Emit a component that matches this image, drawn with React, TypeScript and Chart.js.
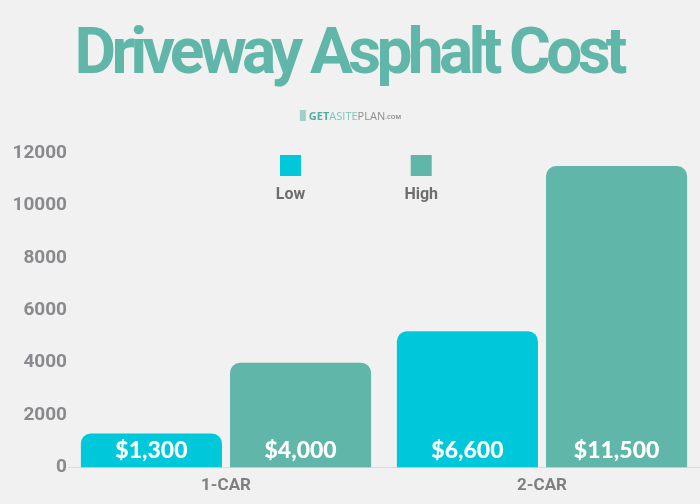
import React, { useEffect, useRef } from 'react';
import { Chart, registerables } from 'chart.js';

Chart.register(...registerables);

const categories = ['1-CAR', '2-CAR'];
const seriesNames = ['Low', 'High'];
const lowValues = [1300, 5200];
const highValues = [4000, 11500];
const lowLabels = ['$1,300', '$6,600'];
const highLabels = ['$4,000', '$11,500'];
const yMax = 12000;
const yStep = 2000;

const titleText = 'Driveway Asphalt Cost';
const logoParts = [
  { text: 'GET', color: '#4FAE9F', weight: 'bold' },
  { text: 'ASITE', color: '#7CC5BA', weight: 'normal' },
  { text: 'PLAN', color: '#8E8E8E', weight: 'normal' },
];
const logoSuffix = '.COM';

const LOW_COLOR = '#00C8DB';
const HIGH_COLOR = '#61B6AA';
const BG = '#F1F1F1';

const decorPlugin = {
  id: 'decor',
  afterDatasetsDraw(chart: any) {
    const ctx = chart.ctx;
    const labelSets = [lowLabels, highLabels];
    ctx.save();
    ctx.fillStyle = '#FFFFFF';
    ctx.font = '900 23px Lato';
    ctx.textAlign = 'center';
    ctx.textBaseline = 'alphabetic';
    labelSets.forEach((labels, di) => {
      const meta = chart.getDatasetMeta(di);
      meta.data.forEach((bar: any, i: number) => {
        ctx.fillText(labels[i], bar.x, bar.base - 10);
      });
    });
    ctx.restore();
  },
  afterDraw(chart: any) {
    const ctx = chart.ctx;
    ctx.save();
    // Title
    ctx.fillStyle = HIGH_COLOR;
    ctx.font = 'bold 64px Roboto';
    ctx.textAlign = 'center';
    ctx.textBaseline = 'alphabetic';
    const targetW = 553;
    const w = ctx.measureText(titleText).width;
    const ls = (targetW - w) / (titleText.length - 1);
    (ctx as any).letterSpacing = ls.toFixed(2) + 'px';
    ctx.fillText(titleText, 351 + ls / 2, 73);
    (ctx as any).letterSpacing = '0px';

    // Logo
    ctx.textAlign = 'left';
    let total = 0;
    const widths: number[] = [];
    logoParts.forEach((p) => {
      ctx.font = `${p.weight} 11px "Open Sans"`;
      const pw = ctx.measureText(p.text).width;
      widths.push(pw);
      total += pw;
    });
    ctx.font = 'bold 6px "Open Sans"';
    const sw = ctx.measureText(logoSuffix).width;
    total += sw;
    let x = 355 - total / 2;
    logoParts.forEach((p, i) => {
      ctx.font = `${p.weight} 11px "Open Sans"`;
      ctx.fillStyle = p.color;
      ctx.fillText(p.text, x, 120);
      x += widths[i];
    });
    ctx.font = 'bold 6px "Open Sans"';
    ctx.fillStyle = '#8E8E8E';
    ctx.fillText(logoSuffix, x, 119);
    ctx.fillStyle = '#9FCFC6';
    ctx.fillRect(355 - total / 2 - 9, 110, 6, 11);

    // Legend
    const legendItems = [
      { name: seriesNames[0], color: LOW_COLOR, cx: 290.5 },
      { name: seriesNames[1], color: HIGH_COLOR, cx: 421.2 },
    ];
    ctx.textAlign = 'center';
    ctx.font = 'bold 16px Roboto';
    legendItems.forEach((it) => {
      ctx.fillStyle = it.color;
      ctx.fillRect(it.cx - 10.5, 155, 21, 21);
      ctx.fillStyle = '#6E6E6E';
      ctx.fillText(it.name, it.cx, 199);
    });
    ctx.restore();
  },
};

export default function App() {
  const canvasRef = useRef<HTMLCanvasElement | null>(null);

  useEffect(() => {
    const canvas = canvasRef.current;
    if (!canvas) return;
    const chart = new Chart(canvas, {
      type: 'bar',
      data: {
        labels: categories,
        datasets: [
          {
            label: seriesNames[0],
            data: lowValues,
            backgroundColor: LOW_COLOR,
            borderRadius: 10,
            borderSkipped: 'start',
            categoryPercentage: 0.944,
            barPercentage: 0.946,
          },
          {
            label: seriesNames[1],
            data: highValues,
            backgroundColor: HIGH_COLOR,
            borderRadius: 10,
            borderSkipped: 'start',
            categoryPercentage: 0.944,
            barPercentage: 0.946,
          },
        ],
      },
      options: {
        responsive: false,
        animation: false,
        devicePixelRatio: 1,
        layout: { padding: { top: 153, bottom: 0, left: 0, right: 0 } },
        plugins: {
          legend: { display: false },
          title: { display: false },
          tooltip: { enabled: false },
        },
        scales: {
          x: {
            grid: { display: false, drawTicks: false },
            border: { display: true, color: '#DADADA', width: 1 },
            ticks: {
              padding: 8,
              color: '#7F7F7F',
              font: { family: 'Roboto', size: 17, weight: 'bold' },
            },
          },
          y: {
            min: 0,
            max: yMax,
            grid: { display: false, drawTicks: false },
            border: { display: false },
            afterFit(scale: any) {
              scale.width = 68;
            },
            ticks: {
              stepSize: yStep,
              padding: 1,
              color: '#8A8A8E',
              font: { family: 'Roboto', size: 19, weight: 'bold' },
              callback: (v: any) => String(v),
            },
          },
        },
      },
      plugins: [decorPlugin],
    });
    return () => chart.destroy();
  }, []);

  return (
    <div
      style={{
        position: 'fixed',
        left: 0,
        top: 0,
        width: 700,
        height: 504,
        overflow: 'hidden',
        background: BG,
      }}
    >
      <canvas ref={canvasRef} width={700} height={504} style={{ display: 'block' }} />
    </div>
  );
}
